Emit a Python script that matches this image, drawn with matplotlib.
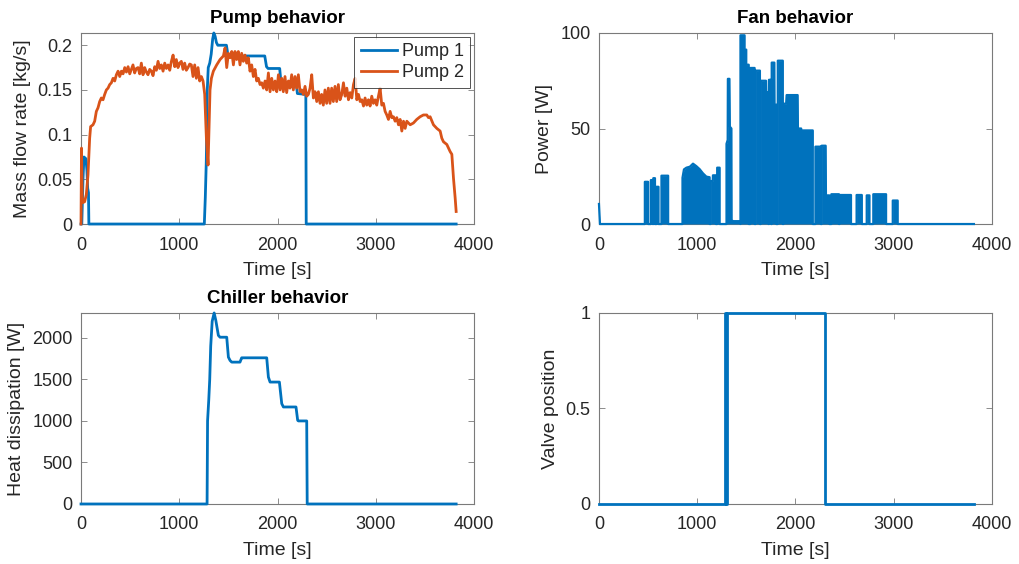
import numpy as np
import matplotlib
matplotlib.use("Agg")
import matplotlib.pyplot as plt
from matplotlib.ticker import FuncFormatter

# ---------------- data ----------------
# Pump 1 mass flow rate [kg/s]
pump1_time = [0, 8, 20, 30, 50, 60, 68, 76, 80, 1255, 1265, 1275, 1285, 1295,
              1310, 1325, 1340, 1352, 1365, 1378, 1392, 1480, 1497, 1870, 1888,
              1904, 2022, 2036, 2192, 2202, 2288, 2292, 3818]
pump1_flow = [0, 0.0, 0.05, 0.075, 0.073, 0.06, 0.04, 0.035, 0, 0, 0.03, 0.07,
              0.15, 0.175, 0.18, 0.19, 0.207, 0.2137, 0.21, 0.203, 0.2, 0.2,
              0.188, 0.188, 0.176, 0.174, 0.174, 0.157, 0.156, 0.146, 0.145, 0, 0]

# Pump 2 mass flow rate [kg/s]
pump2_time = [0, 5, 12, 20, 37, 54, 71, 88, 98, 122, 139, 156, 173, 190, 207,
              224, 241, 258, 275, 292, 309, 326, 343, 360, 377, 394, 411, 428,
              445, 462, 479, 496, 512, 529, 546, 563, 580, 597, 614, 631, 648,
              665, 682, 699, 716, 733, 750, 767, 784, 801, 818, 835, 852, 869,
              886, 903, 920, 937, 954, 970, 987, 1004, 1021, 1038, 1055, 1072,
              1089, 1106, 1123, 1140, 1157, 1174, 1191, 1208, 1225, 1242, 1259,
              1276, 1293, 1303, 1313, 1327, 1347, 1381, 1415, 1449, 1466, 1483,
              1500, 1517, 1534, 1551, 1567, 1584, 1601, 1618, 1635, 1652, 1669,
              1686, 1703, 1720, 1737, 1754, 1771, 1788, 1805, 1822, 1839, 1856,
              1873, 1890, 1907, 1924, 1941, 1958, 1975, 1992, 2009, 2026, 2043,
              2059, 2076, 2093, 2110, 2127, 2144, 2161, 2178, 2195, 2212, 2229,
              2246, 2263, 2280, 2297, 2314, 2331, 2348, 2365, 2382, 2399, 2416,
              2433, 2449, 2466, 2483, 2500, 2517, 2534, 2551, 2568, 2585, 2602,
              2619, 2636, 2654, 2671, 2688, 2705, 2722, 2739, 2756, 2773, 2790,
              2807, 2824, 2841, 2858, 2875, 2891, 2908, 2925, 2942, 2959, 2976,
              2993, 3010, 3027, 3044, 3061, 3078, 3095, 3112, 3129, 3146, 3163,
              3180, 3197, 3214, 3231, 3248, 3265, 3282, 3299, 3316, 3350, 3383,
              3417, 3451, 3485, 3519, 3536, 3553, 3587, 3621, 3655, 3672, 3689,
              3723, 3757, 3774, 3791, 3808, 3818]
pump2_flow = [0, 0.085, 0.03, 0.024, 0.025, 0.033, 0.055, 0.096, 0.109, 0.111,
              0.115, 0.126, 0.130, 0.137, 0.141, 0.139, 0.145, 0.150, 0.152,
              0.156, 0.158, 0.163, 0.160, 0.167, 0.171, 0.165, 0.171, 0.168,
              0.175, 0.170, 0.176, 0.168, 0.173, 0.178, 0.169, 0.174, 0.175,
              0.168, 0.180, 0.167, 0.175, 0.170, 0.167, 0.173, 0.171, 0.166,
              0.176, 0.172, 0.182, 0.174, 0.178, 0.171, 0.180, 0.174, 0.178,
              0.172, 0.182, 0.189, 0.176, 0.184, 0.175, 0.180, 0.182, 0.173,
              0.180, 0.172, 0.175, 0.179, 0.178, 0.165, 0.178, 0.163, 0.175,
              0.160, 0.165, 0.160, 0.145, 0.096, 0.066, 0.107, 0.150, 0.163,
              0.171, 0.178, 0.184, 0.188, 0.197, 0.175, 0.191, 0.186, 0.193,
              0.178, 0.193, 0.184, 0.193, 0.178, 0.191, 0.182, 0.189, 0.180,
              0.186, 0.171, 0.178, 0.165, 0.173, 0.160, 0.163, 0.156, 0.158,
              0.152, 0.160, 0.150, 0.169, 0.148, 0.163, 0.150, 0.160, 0.148,
              0.167, 0.150, 0.163, 0.148, 0.165, 0.147, 0.160, 0.152, 0.167,
              0.150, 0.165, 0.152, 0.167, 0.148, 0.150, 0.145, 0.154, 0.143,
              0.145, 0.152, 0.167, 0.141, 0.148, 0.137, 0.148, 0.135, 0.145,
              0.133, 0.150, 0.135, 0.152, 0.135, 0.152, 0.137, 0.154, 0.137,
              0.156, 0.139, 0.145, 0.158, 0.143, 0.152, 0.139, 0.147, 0.141,
              0.156, 0.163, 0.139, 0.145, 0.137, 0.139, 0.132, 0.141, 0.133,
              0.139, 0.132, 0.143, 0.135, 0.139, 0.133, 0.143, 0.152, 0.133,
              0.135, 0.126, 0.122, 0.117, 0.126, 0.119, 0.120, 0.115, 0.119,
              0.111, 0.117, 0.104, 0.115, 0.107, 0.115, 0.111, 0.113, 0.117,
              0.120, 0.122, 0.122, 0.119, 0.120, 0.111, 0.107, 0.104, 0.096,
              0.092, 0.089, 0.081, 0.078, 0.051, 0.029, 0.014]

# Fan electrical power [W]
fan_time = [0, 10, 467, 467, 500, 500, 528, 528, 548, 548, 553, 553, 570, 570,
            586, 586, 606, 606, 636, 636, 704, 704, 850, 850, 865, 890, 925, 957,
            991, 1025, 1059, 1093, 1126, 1126, 1136, 1136, 1158, 1160, 1190, 1190,
            1203, 1203, 1228, 1228, 1298, 1298, 1310, 1312, 1328, 1332, 1348, 1350,
            1365, 1430, 1440, 1440, 1482, 1482, 1499, 1499, 1524, 1524, 1540, 1540,
            1584, 1584, 1594, 1594, 1638, 1638, 1647, 1647, 1700, 1702, 1726, 1726,
            1730, 1730, 1753, 1753, 1758, 1758, 1785, 1787, 1804, 1804, 1820, 1820,
            1871, 1871, 1877, 1877, 1905, 1910, 2022, 2025, 2058, 2060, 2176, 2176,
            2203, 2203, 2258, 2258, 2266, 2266, 2307, 2310, 2345, 2345, 2365, 2365,
            2442, 2442, 2448, 2448, 2565, 2565, 2622, 2622, 2675, 2675, 2725, 2725,
            2753, 2753, 2792, 2792, 2922, 2922, 2990, 2990, 3040, 3040, 3816]
fan_power = [10.5, 0, 0, 22.1, 22.1, 0, 0, 23.0, 23.0, 0, 0, 24.0, 24.0, 0,
             0, 19.5, 19.5, 0, 0, 25.3, 25.3, 0, 0, 24.2, 28.6, 29.5, 30.0, 31.6,
             30.3, 28.7, 26.5, 24.8, 24.5, 0, 0, 22.5, 22.5, 25.5, 25.5, 0,
             0, 29.5, 29.5, 0, 0, 42, 44, 76, 76, 51, 50, 2,
             1.5, 1.5, 0, 98.8, 98.8, 91.3, 91.3, 83.4, 83.4, 0, 0, 81.7,
             81.7, 0, 0, 80.3, 80.3, 0, 0, 75, 75, 69, 69, 0,
             0, 75.5, 75.5, 0, 0, 84.5, 84.5, 62.5, 62.5, 0, 0, 85.5,
             85.5, 0, 0, 63, 63, 67.5, 67.5, 50, 50, 49, 49, 0,
             0, 40.5, 40.5, 0, 0, 41, 41, 15.0, 15.0, 0, 0, 15.6,
             15.6, 0, 0, 15.2, 15.2, 0, 0, 15.2, 15.2, 0, 0, 15.0,
             15.0, 0, 0, 15.6, 15.6, 0, 0, 12.3, 12.3, 0, 0]

# Chiller heat dissipation [W]
chiller_time = [0, 1283, 1288, 1300, 1310, 1320, 1335, 1355, 1372, 1398, 1415,
                1483, 1500, 1517, 1534, 1618, 1635, 1652, 1890, 1907, 1924, 2019,
                2043, 2060, 2188, 2205, 2212, 2297, 2302, 3818]
chiller_heat = [0, 0, 1000, 1250, 1500, 1900, 2200, 2300, 2210, 2030, 2008,
                2008, 1768, 1728, 1708, 1708, 1760, 1760, 1760, 1528, 1468, 1468,
                1208, 1168, 1168, 1008, 1000, 1000, 0, 0]

# Three-way valve position [-]
valve_time = [0, 1282, 1282, 1290, 1290, 1300, 1300, 2298, 2298, 3816]
valve_pos = [0, 0, 1, 1, 0, 0, 1, 1, 0, 0]

# ---------------- style ----------------
BLUE = "#0072BD"
ORANGE = "#D95319"
AX_COL = "#7a7a7a"
TXT_COL = "#262626"

plt.rcParams["font.family"] = ["Liberation Sans", "DejaVu Sans"]

fig = plt.figure(figsize=(10.19, 5.64), dpi=100)

ax_w, ax_h = 0.3857, 0.3387
ax_pump = fig.add_axes([0.0795, 0.6028, ax_w, ax_h])
ax_fan = fig.add_axes([0.5878, 0.6028, ax_w, ax_h])
ax_chil = fig.add_axes([0.0795, 0.1064, ax_w, ax_h])
ax_valve = fig.add_axes([0.5878, 0.1064, ax_w, ax_h])

fmt = FuncFormatter(lambda v, p: f"{v:g}")


def style(ax, ylabel, yticks, ylim, title=None):
    ax.set_xlim(0, 4000)
    ax.set_ylim(*ylim)
    ax.set_xticks([0, 1000, 2000, 3000, 4000])
    ax.set_yticks(yticks)
    ax.xaxis.set_major_formatter(fmt)
    ax.yaxis.set_major_formatter(fmt)
    ax.tick_params(direction="in", length=4, width=0.6, colors=AX_COL,
                   labelcolor=TXT_COL, labelsize=13, top=True, right=True)
    ax.tick_params(axis="x", pad=9)
    ax.tick_params(axis="y", pad=6)
    for s in ax.spines.values():
        s.set_color(AX_COL)
        s.set_linewidth(0.8)
    ax.set_xlabel("Time [s]", fontsize=14, color=TXT_COL, labelpad=6)
    ax.set_ylabel(ylabel, fontsize=14, color=TXT_COL, labelpad=5)
    if title:
        ax.set_title(title, fontsize=13.5, fontweight="bold", color="black",
                     pad=7)


# Pump behaviour
ax_pump.plot(pump1_time, pump1_flow, color=BLUE, lw=2, label="Pump 1")
ax_pump.plot(pump2_time, pump2_flow, color=ORANGE, lw=2, label="Pump 2")
style(ax_pump, "Mass flow rate [kg/s]", [0, 0.05, 0.1, 0.15, 0.2],
      (0, max(max(pump1_flow), max(pump2_flow))), "Pump behavior")
leg = ax_pump.legend(loc="upper right", fontsize=13, frameon=True,
                     fancybox=False, borderaxespad=0.2, handlelength=2.0,
                     handletextpad=0.3, borderpad=0.35, labelspacing=0.25)
leg.get_frame().set_edgecolor(TXT_COL)
leg.get_frame().set_linewidth(0.7)
for t in leg.get_texts():
    t.set_color(TXT_COL)

# Fan behaviour: fast on/off cycling renders as solid blocks
ax_fan.fill_between(fan_time, fan_power, 0, color=BLUE, lw=0, zorder=3)
ax_fan.plot(fan_time, fan_power, color=BLUE, lw=1.6)
style(ax_fan, "Power [W]", [0, 50, 100], (0, 100), "Fan behavior")

# Chiller behaviour
ax_chil.plot(chiller_time, chiller_heat, color=BLUE, lw=2)
style(ax_chil, "Heat dissipation [W]", [0, 500, 1000, 1500, 2000],
      (0, max(chiller_heat)), "Chiller behavior")

# Valve position
ax_valve.plot(valve_time, valve_pos, color=BLUE, lw=2)
style(ax_valve, "Valve position", [0, 0.5, 1], (0, 1))

for ax in (ax_pump, ax_fan, ax_chil, ax_valve):
    for ln in ax.get_lines():
        ln.set_clip_on(False)
        ln.set_zorder(3)

fig.savefig("out.png", dpi=100)
